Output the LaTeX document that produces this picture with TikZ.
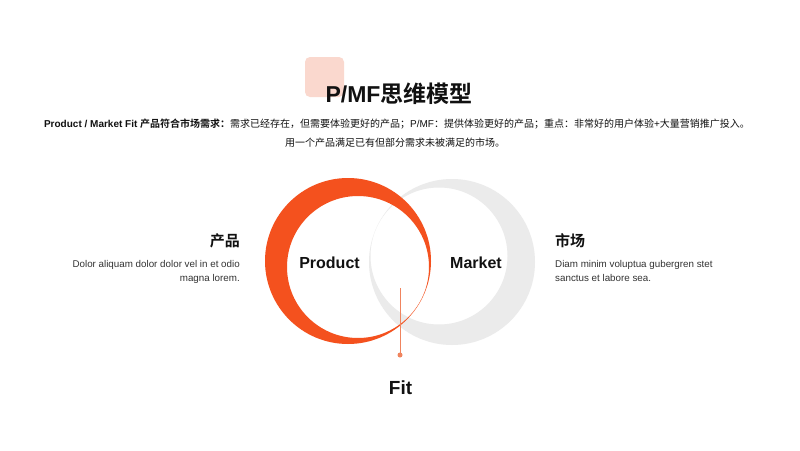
\documentclass[tikz,border=0pt]{standalone}
\usepackage{fontspec}
\setmainfont{Liberation Sans}
\newfontfamily\cjk{Noto Sans CJK SC}[BoldFont={Noto Sans CJK SC Bold}]
\definecolor{brand}{HTML}{F4511E}
\definecolor{ringgray}{HTML}{EBEBEB}
\definecolor{stemcol}{HTML}{F0845E}
\definecolor{tile}{HTML}{FAD8CE}
\definecolor{ink}{HTML}{111111}
\definecolor{bodyink}{HTML}{333333}
\tikzset{
  titletext/.style={font=\fontsize{23}{26}\selectfont\bfseries, text=ink, inner sep=0pt, anchor=base},
  subtext/.style={font=\fontsize{10}{12}\selectfont, text=ink, inner sep=0pt, anchor=base},
  ringlabel/.style={font=\fontsize{16}{18}\selectfont\bfseries, text=ink, inner sep=0pt, anchor=base},
  fitlabel/.style={font=\fontsize{19}{22}\selectfont\bfseries, text=ink, inner sep=0pt, anchor=base},
  sidehead/.style={font=\fontsize{15}{18}\selectfont\bfseries\cjk, text=ink, inner sep=0pt, anchor=base},
  sidebody/.style={font=\fontsize{9.8}{12}\selectfont, text=bodyink, inner sep=0pt, anchor=base},
  dotnode/.style={circle, fill=stemcol, inner sep=0pt, minimum size=5pt},
}
\begin{document}
\begin{tikzpicture}[x=1pt,y=-1pt]
\fill[white] (0,0) rectangle (800,450);
\useasboundingbox (0,0) rectangle (800,450);
% title tile
\fill[tile, rounded corners=5pt] (305,57) rectangle (344,97);
\node[titletext] (title) at (399,102) {P/MF{\cjk 思维模型}};
% subtitle
\node[subtext] (sub1) at (397,127) {{\bfseries Product / Market Fit {\cjk 产品符合市场需求：}}{\cjk 需求已经存在，但需要体验更好的产品；}P/MF{\cjk ：提供体验更好的产品；重点：非常好的用户体验}+{\cjk 大量营销推广投入。}};
\node[subtext] (sub2) at (395,146) {\cjk 用一个产品满足已有但部分需求未被满足的市场。};
% rings
\fill[ringgray, even odd rule] (452,262) circle[radius=83pt] (439,256) circle[radius=68.5pt];
\fill[brand, even odd rule] (348,261) circle[radius=83pt] (358,267) circle[radius=71pt];
% labels in rings
\node[ringlabel] (product) at (329.5,268) {Product};
\node[ringlabel] (market) at (476,268) {Market};
% fit stem
\coordinate (stemtop) at (400,288);
\node[dotnode] (dot) at (400,355) {};
\draw[stemcol, line width=1pt] (stemtop) -- (dot.center);
\node[fitlabel] (fit) at (400.5,394) {Fit};
% left side text
\node[sidehead, anchor=base east] (lhead) at (240,246) {产品};
\node[sidebody, anchor=base east] (lbody1) at (240,267) {Dolor aliquam dolor dolor vel in et odio};
\node[sidebody, anchor=base east] (lbody2) at (240,281) {magna lorem.};
% right side text
\node[sidehead, anchor=base west] (rhead) at (555,246) {市场};
\node[sidebody, anchor=base west] (rbody1) at (555,267) {Diam minim voluptua gubergren stet};
\node[sidebody, anchor=base west] (rbody2) at (555,281) {sanctus et labore sea.};
\end{tikzpicture}
\end{document}
